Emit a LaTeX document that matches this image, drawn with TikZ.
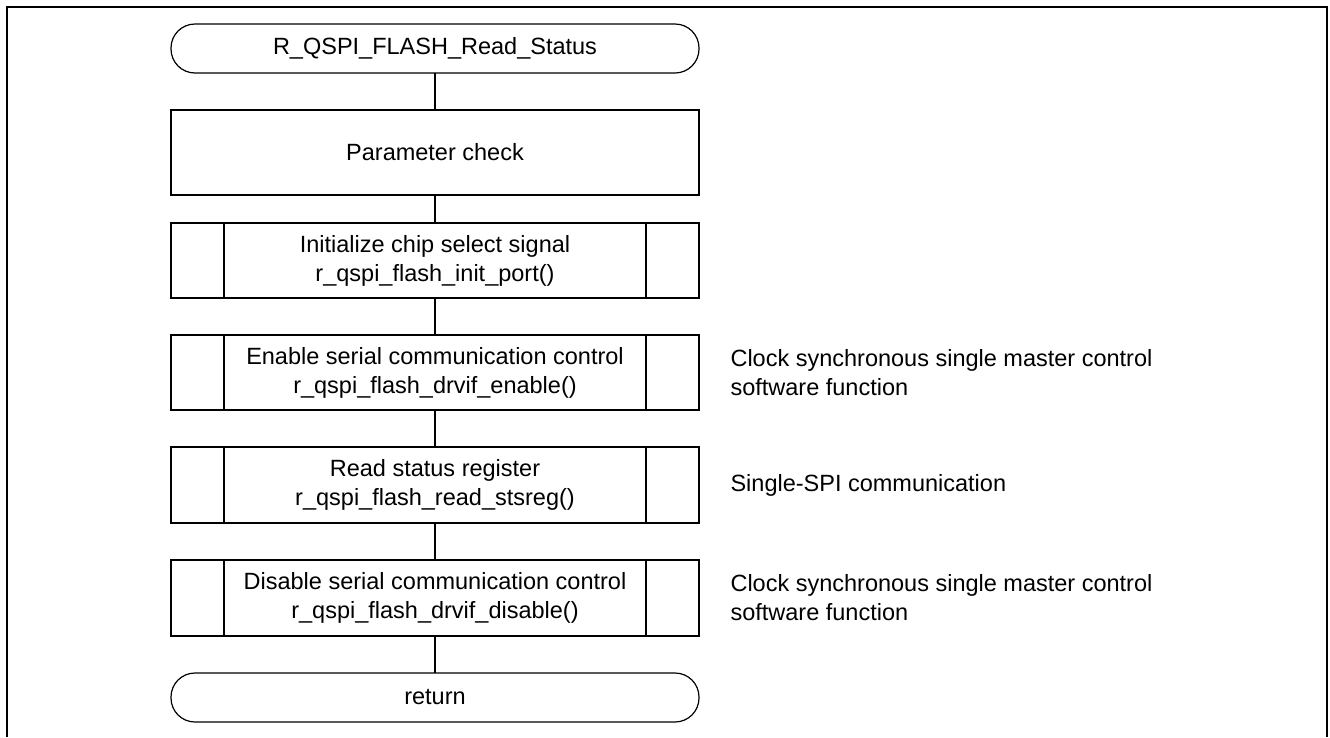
\documentclass[tikz,border=0pt]{standalone}
\usepackage{fontspec}
\setmainfont{Liberation Sans}
\usetikzlibrary{positioning}

\tikzset{
  term/.style={draw, line width=1.2pt, rounded corners=24pt, minimum width=528pt, minimum height=49pt, outer sep=0pt},
  procbox/.style={draw, line width=1.2pt, minimum width=528pt, minimum height=85pt, outer sep=0pt},
  subbox/.style={draw, line width=1.2pt, minimum width=528pt, minimum height=75pt, align=center, outer sep=0pt},
  note/.style={anchor=west, align=left},
}

\begin{document}
\begin{tikzpicture}[x=1pt, y=1pt, node distance=37pt, font=\fontsize{23.5}{29}\selectfont]
    \useasboundingbox (0,0) rectangle (1330,-737);

    % Outer frame
    \draw[line width=2.5pt] (7,-737) -- (7,-7) -- (1327,-7) -- (1327,-737);

    % Flow
    \node[term] (start) at (435,-48.5) {R\_QSPI\_FLASH\_Read\_Status};
    \node[procbox, below=of start] (pcheck) {Parameter check};
    \node[subbox, below=28pt of pcheck] (init) {Initialize chip select signal\\r\_qspi\_flash\_init\_port()};
    \node[subbox, below=of init] (enable) {Enable serial communication control\\r\_qspi\_flash\_drvif\_enable()};
    \node[subbox, below=of enable, minimum height=76pt] (read) {Read status register\\r\_qspi\_flash\_read\_stsreg()};
    \node[subbox, below=of read, minimum height=76pt] (disable) {Disable serial communication control\\r\_qspi\_flash\_drvif\_disable()};
    \node[term, below=of disable] (ret) {return};

    % Subroutine bars
    \foreach \b in {init, enable, read, disable} {
        \draw[line width=1.2pt] ([xshift=53pt]\b.north west) -- ([xshift=53pt]\b.south west);
        \draw[line width=1.2pt] ([xshift=-53pt]\b.north east) -- ([xshift=-53pt]\b.south east);
    }

    % Connectors
    \draw[line width=1.2pt] (start) -- (pcheck);
    \draw[line width=1.2pt] (pcheck) -- (init);
    \draw[line width=1.2pt] (init) -- (enable);
    \draw[line width=1.2pt] (enable) -- (read);
    \draw[line width=1.2pt] (read) -- (disable);
    \draw[line width=1.2pt] (disable) -- (ret);

    % Notes
    \node[note, right=28pt of enable] (noteEnable) {Clock synchronous single master control\\software function};
    \node[note, right=28pt of read] (noteRead) {Single-SPI communication};
    \node[note, right=28pt of disable] (noteDisable) {Clock synchronous single master control\\software function};
\end{tikzpicture}
\end{document}
